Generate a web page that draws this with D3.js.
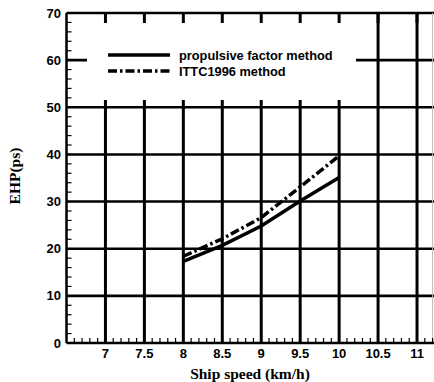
<!DOCTYPE html>
<html>
<head>
<meta charset="utf-8">
<script src="https://cdn.jsdelivr.net/npm/d3@7"></script>
<style>
  body { margin: 0; background: #fff; }
  text { fill: #000; }
</style>
</head>
<body>
<div id="chart"></div>
<script>
// data
const speeds = [8, 8.5, 9, 9.5, 10];
const propulsive = [17.3, 20.7, 24.8, 30.1, 35.1];
const ittc = [18.4, 22.1, 26.6, 33.1, 39.7];
const xTicks = [7, 7.5, 8, 8.5, 9, 9.5, 10, 10.5, 11];
const yTicks = [0, 10, 20, 30, 40, 50, 60, 70];
const seriesNames = ['propulsive factor method', 'ITTC1996 method'];

const width = 434;
const height = 382;

const svg = d3.select('#chart')
  .append('svg')
  .attr('width', width)
  .attr('height', height);

const x = d3.scaleLinear().domain([6.5, 11.2]).range([66.5, 432.6]);
const y = d3.scaleLinear().domain([0, 70]).range([343, 13]);

// grid
svg.append('g')
  .selectAll('line')
  .data(yTicks.filter(d => d > 0 && d < 70))
  .enter()
  .append('line')
  .attr('x1', x.range()[0]).attr('x2', width)
  .attr('y1', d => y(d)).attr('y2', d => y(d))
  .attr('stroke', '#000').attr('stroke-width', 2.6);

svg.append('g')
  .selectAll('line')
  .data(xTicks)
  .enter()
  .append('line')
  .attr('x1', d => x(d)).attr('x2', d => x(d))
  .attr('y1', y(0)).attr('y2', y(70))
  .attr('stroke', '#000').attr('stroke-width', 3);

// legend box hides part of the grid
svg.append('rect')
  .attr('x', 87).attr('y', 14)
  .attr('width', 269).attr('height', 86)
  .attr('fill', '#fff');

// axes frame
svg.append('line')
  .attr('x1', x.range()[0]).attr('x2', x.range()[0])
  .attr('y1', y(0)).attr('y2', y(70))
  .attr('stroke', '#000').attr('stroke-width', 2.5);
svg.append('line')
  .attr('x1', x.range()[0]).attr('x2', width)
  .attr('y1', y(0)).attr('y2', y(0))
  .attr('stroke', '#000').attr('stroke-width', 2.5);
svg.append('line')
  .attr('x1', x.range()[0]).attr('x2', width)
  .attr('y1', y(70)).attr('y2', y(70))
  .attr('stroke', '#000').attr('stroke-width', 2.5);
svg.append('line')
  .attr('x1', x.range()[1]).attr('x2', x.range()[1])
  .attr('y1', y(0)).attr('y2', y(70))
  .attr('stroke', '#bbb').attr('stroke-width', 1);

// minor ticks
const yMinor = d3.range(0, 70.01, 2);
svg.append('g')
  .selectAll('line')
  .data(yMinor)
  .enter()
  .append('line')
  .attr('x1', x.range()[0]).attr('x2', x.range()[0] + 5)
  .attr('y1', d => y(d)).attr('y2', d => y(d))
  .attr('stroke', '#000').attr('stroke-width', 1.2);

const xMinor = d3.range(6.6, 11.21, 0.1);
svg.append('g')
  .selectAll('line')
  .data(xMinor)
  .enter()
  .append('line')
  .attr('x1', d => x(d)).attr('x2', d => x(d))
  .attr('y1', y(0)).attr('y2', y(0) - 5)
  .attr('stroke', '#000').attr('stroke-width', 1.2);

// top major ticks
svg.append('g')
  .selectAll('line')
  .data(xTicks)
  .enter()
  .append('line')
  .attr('x1', d => x(d)).attr('x2', d => x(d))
  .attr('y1', y(70)).attr('y2', y(70) + 10)
  .attr('stroke', '#000').attr('stroke-width', 3);

// tick labels
svg.append('g')
  .selectAll('text')
  .data(yTicks)
  .enter()
  .append('text')
  .attr('x', 61)
  .attr('y', d => y(d) + 4.5)
  .attr('text-anchor', 'end')
  .style('font', 'bold 13px "Liberation Sans", Arial, sans-serif')
  .text(d => d);

svg.append('g')
  .selectAll('text')
  .data(xTicks)
  .enter()
  .append('text')
  .attr('x', d => x(d))
  .attr('y', 358)
  .attr('text-anchor', 'middle')
  .style('font', 'bold 13px "Liberation Sans", Arial, sans-serif')
  .text(d => d);

// axis titles
svg.append('text')
  .attr('x', 250).attr('y', 379)
  .attr('text-anchor', 'middle')
  .style('font', 'bold 15.5px "Liberation Serif", "Times New Roman", serif')
  .text('Ship speed (km/h)');

svg.append('text')
  .attr('transform', 'translate(20,176) rotate(-90)')
  .attr('text-anchor', 'middle')
  .style('font', 'bold 15.5px "Liberation Serif", "Times New Roman", serif')
  .text('EHP(ps)');

// curves
const line = d3.line()
  .x(d => x(d[0]))
  .y(d => y(d[1]));

svg.append('path')
  .datum(speeds.map((s, i) => [s, propulsive[i]]))
  .attr('d', line)
  .attr('fill', 'none')
  .attr('stroke', '#000')
  .attr('stroke-width', 3.5);

svg.append('path')
  .datum(speeds.map((s, i) => [s, ittc[i]]))
  .attr('d', line)
  .attr('fill', 'none')
  .attr('stroke', '#000')
  .attr('stroke-width', 3.5)
  .attr('stroke-dasharray', '9,3,2.5,3');

// legend
const legend = svg.append('g');
const dashes = [null, '9,3,2.5,3'];
seriesNames.forEach((name, i) => {
  const ly = 55 + i * 16;
  legend.append('line')
    .attr('x1', 108).attr('x2', 170)
    .attr('y1', ly).attr('y2', ly)
    .attr('stroke', '#000').attr('stroke-width', 3.5)
    .attr('stroke-dasharray', dashes[i]);
  legend.append('text')
    .attr('x', 179).attr('y', ly + 4.5)
    .style('font', 'bold 12.8px "Liberation Sans", Arial, sans-serif')
    .text(name);
});
</script>
</body>
</html>
